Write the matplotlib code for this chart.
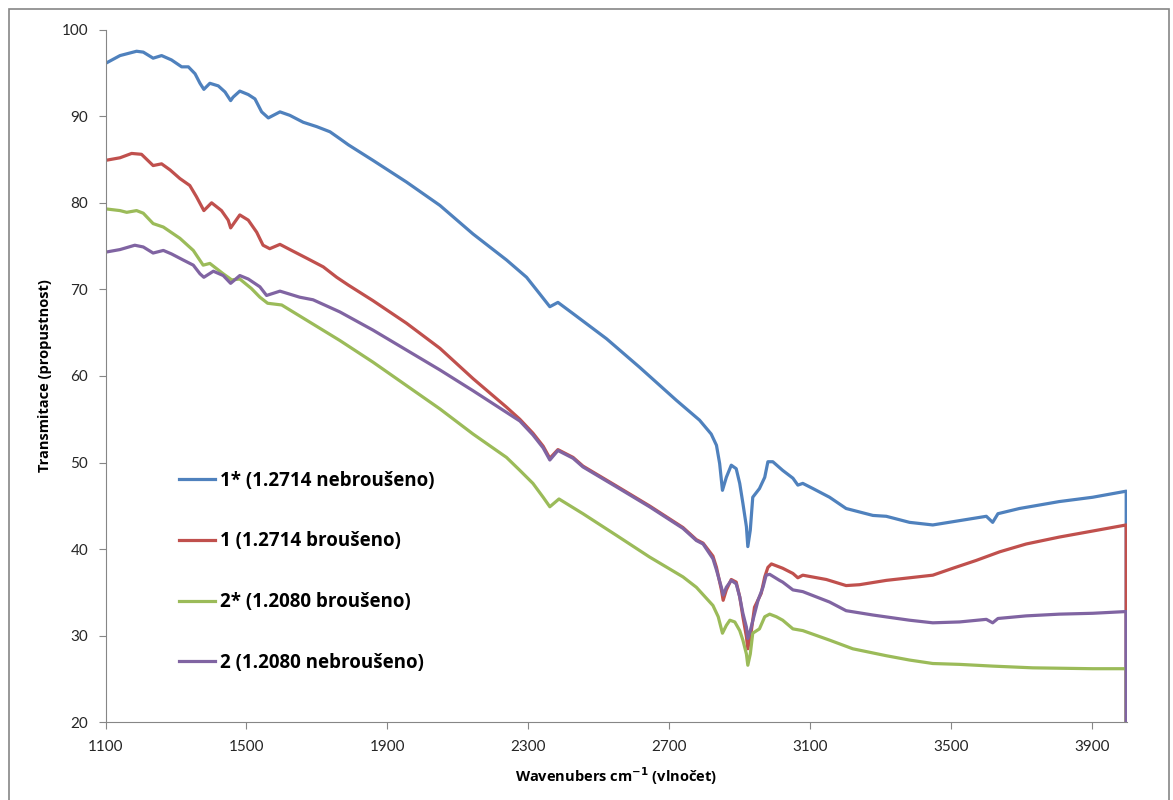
import matplotlib
matplotlib.use('Agg')
import matplotlib.pyplot as plt
from matplotlib.patches import Rectangle

plt.rcParams['font.family'] = ['Lato', 'DejaVu Sans']

# IR transmission spectra, wavenumber (cm-1) vs transmittance (%)
wn_1s = [1100, 1141, 1188, 1207, 1235, 1259, 1287, 1316, 1335, 1354, 1368, 1379, 1396, 1420,
         1439, 1455, 1462, 1481, 1505, 1524, 1543, 1562, 1595, 1623, 1661, 1699, 1737, 1765,
         1789, 1859, 1954, 2049, 2143, 2238, 2295, 2332, 2361, 2384, 2427, 2522, 2616, 2720,
         2786, 2819, 2834, 2843, 2851, 2862, 2876, 2890, 2900, 2909, 2919, 2923, 2930, 2937,
         2956, 2971, 2980, 2994, 3022, 3051, 3065, 3079, 3108, 3155, 3202, 3278, 3316, 3382,
         3448, 3524, 3600, 3618, 3633, 3694, 3807, 3902, 3997, 3997]
t_1s = [96.1, 97.0, 97.5, 97.4, 96.7, 97.0, 96.5, 95.7, 95.7, 94.9, 93.8, 93.1, 93.8, 93.5,
        92.8, 91.8, 92.2, 92.9, 92.5, 92.0, 90.5, 89.8, 90.5, 90.1, 89.3, 88.8, 88.2, 87.4,
        86.7, 84.9, 82.4, 79.7, 76.4, 73.4, 71.4, 69.5, 68.0, 68.5, 67.2, 64.3, 61.0, 57.2,
        54.9, 53.3, 52.0, 49.9, 46.8, 48.3, 49.7, 49.3, 47.6, 45.3, 42.6, 40.3, 42.2, 46.0,
        47.0, 48.3, 50.1, 50.1, 49.1, 48.2, 47.4, 47.6, 47.0, 46.0, 44.7, 43.9, 43.8, 43.1,
        42.8, 43.3, 43.8, 43.1, 44.1, 44.7, 45.5, 46.0, 46.7, 0]

wn_1 = [1100, 1141, 1174, 1202, 1235, 1259, 1283, 1311, 1339, 1358, 1379, 1401, 1429, 1448,
        1455, 1481, 1505, 1529, 1547, 1566, 1595, 1628, 1671, 1718, 1756, 1789, 1859, 1954,
        2049, 2143, 2238, 2276, 2313, 2342, 2361, 2384, 2427, 2455, 2550, 2644, 2739, 2777,
        2796, 2824, 2834, 2848, 2853, 2862, 2876, 2890, 2900, 2909, 2919, 2923, 2933, 2942,
        2961, 2971, 2980, 2990, 3022, 3051, 3065, 3079, 3146, 3202, 3240, 3316, 3382, 3448,
        3505, 3571, 3638, 3713, 3807, 3902, 3997, 3997]
t_1 = [84.9, 85.2, 85.7, 85.6, 84.3, 84.5, 83.8, 82.8, 82.0, 80.7, 79.1, 80.0, 79.1, 78.0,
       77.1, 78.6, 78.0, 76.6, 75.1, 74.7, 75.2, 74.5, 73.6, 72.6, 71.4, 70.5, 68.7, 66.1,
       63.2, 59.7, 56.4, 55.0, 53.4, 51.9, 50.5, 51.5, 50.6, 49.6, 47.3, 45.0, 42.5, 41.1,
       40.7, 39.2, 37.9, 35.3, 34.1, 35.3, 36.5, 36.2, 34.5, 32.2, 29.9, 28.5, 30.6, 33.3,
       34.9, 36.8, 37.9, 38.3, 37.8, 37.2, 36.7, 37.0, 36.5, 35.8, 35.9, 36.4, 36.7, 37.0,
       37.8, 38.7, 39.7, 40.6, 41.4, 42.1, 42.8, 0]

wn_2s = [1100, 1141, 1160, 1188, 1207, 1235, 1264, 1311, 1349, 1377, 1396, 1434, 1458, 1481,
         1514, 1538, 1560, 1600, 1765, 1859, 1954, 2049, 2143, 2238, 2276, 2313, 2342, 2361,
         2387, 2455, 2550, 2644, 2739, 2777, 2824, 2839, 2851, 2862, 2872, 2886, 2900, 2909,
         2919, 2923, 2930, 2937, 2956, 2971, 2985, 3004, 3022, 3051, 3079, 3155, 3221, 3316,
         3382, 3448, 3524, 3618, 3732, 3902, 3997, 3997]
t_2s = [79.3, 79.1, 78.9, 79.1, 78.8, 77.6, 77.2, 75.9, 74.5, 72.8, 73.0, 71.8, 71.1, 71.2,
        70.1, 69.1, 68.4, 68.2, 64.1, 61.6, 58.9, 56.2, 53.3, 50.6, 49.1, 47.6, 46.0, 44.9,
        45.8, 44.1, 41.6, 39.1, 36.8, 35.6, 33.5, 32.2, 30.3, 31.2, 31.8, 31.6, 30.6, 29.5,
        27.9, 26.6, 27.9, 30.3, 30.8, 32.2, 32.5, 32.2, 31.8, 30.8, 30.6, 29.5, 28.5, 27.7,
        27.2, 26.8, 26.7, 26.5, 26.3, 26.2, 26.2, 0]

wn_2 = [1100, 1141, 1183, 1207, 1235, 1264, 1287, 1320, 1349, 1368, 1379, 1406, 1434, 1455,
        1481, 1505, 1538, 1557, 1595, 1651, 1689, 1765, 1859, 1954, 2049, 2143, 2238, 2276,
        2313, 2342, 2361, 2384, 2427, 2455, 2550, 2644, 2739, 2777, 2796, 2824, 2834, 2848,
        2853, 2862, 2876, 2890, 2900, 2909, 2919, 2923, 2930, 2940, 2952, 2966, 2975, 2985,
        3013, 3022, 3051, 3079, 3155, 3202, 3278, 3382, 3448, 3524, 3600, 3618, 3633, 3713,
        3807, 3902, 3997, 3997]
t_2 = [74.3, 74.6, 75.1, 74.9, 74.2, 74.5, 74.1, 73.4, 72.8, 71.8, 71.4, 72.1, 71.6, 70.7,
       71.6, 71.2, 70.3, 69.3, 69.8, 69.1, 68.8, 67.4, 65.3, 63.0, 60.7, 58.3, 55.8, 54.8,
       53.2, 51.7, 50.3, 51.4, 50.5, 49.5, 47.2, 44.9, 42.4, 41.0, 40.6, 38.9, 37.6, 35.6,
       34.7, 35.6, 36.4, 36.0, 34.5, 32.6, 31.0, 29.7, 30.6, 32.2, 34.1, 35.6, 37.0, 37.1,
       36.4, 36.2, 35.3, 35.1, 33.9, 32.9, 32.4, 31.8, 31.5, 31.6, 31.9, 31.5, 32.0, 32.3,
       32.5, 32.6, 32.8, 0]

labels = ['1* (1.2714 nebroušeno)', '1 (1.2714 broušeno)',
          '2* (1.2080 broušeno)', '2 (1.2080 nebroušeno)']
colors = ['#4F81BD', '#C0504D', '#9BBB59', '#8064A2']
x_ticks = [1100, 1500, 1900, 2300, 2700, 3100, 3500, 3900]
y_ticks = [20, 30, 40, 50, 60, 70, 80, 90, 100]

fig = plt.figure(figsize=(11.73, 8.0), dpi=100)
ax = fig.add_axes([0.090, 0.097, 0.871, 0.866])

series = [(wn_1s, t_1s), (wn_1, t_1), (wn_2s, t_2s), (wn_2, t_2)]
for (wn, t), lab, col in zip(series, labels, colors):
    ax.plot(wn, t, color=col, lw=2.3, label=lab, solid_joinstyle='round')

ax.set_xlim(1100, 4000)
ax.set_ylim(20, 100)
ax.set_xticks(x_ticks)
ax.set_yticks(y_ticks)

grey = '#868686'
for side in ['top', 'right']:
    ax.spines[side].set_visible(False)
for side in ['left', 'bottom']:
    ax.spines[side].set_color(grey)
ax.tick_params(axis='both', direction='out', length=5, color=grey,
               labelsize=11, labelcolor='#262626')
ax.tick_params(axis='y', pad=7.5)
ax.tick_params(axis='x', pad=8)

label_font = {'family': ['Open Sans', 'DejaVu Sans'], 'weight': 'bold', 'size': 10.5}
ax.set_xlabel('Wavenubers cm$^{\\mathbf{-1}}$ (vlnočet)', fontdict=label_font, labelpad=8)
ax.set_ylabel('Transmitace (propustnost)', fontdict=label_font, labelpad=7)

ax.legend(loc='upper left', bbox_to_anchor=(0.1526, 0.4115), bbox_transform=fig.transFigure,
          frameon=False, prop={'family': ['Open Sans', 'DejaVu Sans'], 'weight': 'bold', 'size': 13.5},
          handlelength=1.92, handletextpad=0.25, labelspacing=2.17,
          borderpad=0, borderaxespad=0)

# chart area border
fig.patches.append(Rectangle((9 / 1173, -0.01), 1160 / 1173, 1.0 - 9 / 800 + 0.01,
                             transform=fig.transFigure, fill=False,
                             edgecolor=grey, lw=1.2))

fig.savefig('out.png', dpi=100)
